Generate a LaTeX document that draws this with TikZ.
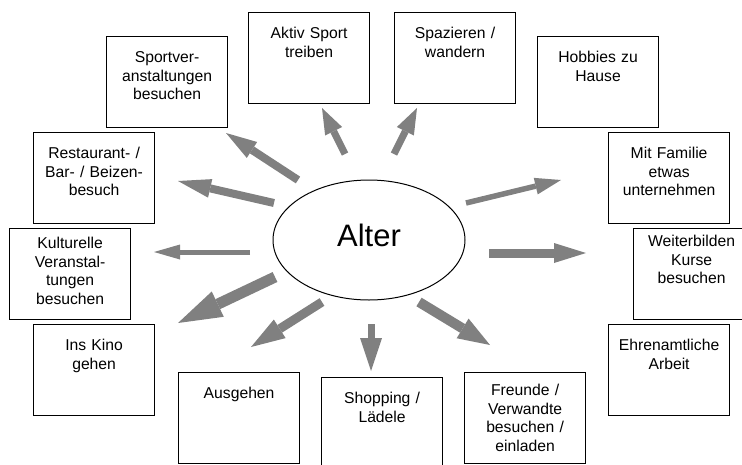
\documentclass[tikz,border=0pt]{standalone}
\usepackage{fontspec}
\setmainfont{Liberation Sans}
\usepackage{tikz}
\usetikzlibrary{arrows.meta, shapes.geometric}
\definecolor{arrowgray}{HTML}{808080}

\begin{document}
\begin{tikzpicture}[
    x = 1pt, y = -1pt,
    box/.style    = {rectangle, draw, line width=1.2pt, anchor=north west,
                     inner xsep=0pt, inner ysep=0pt, minimum width=121pt,
                     text width=115pt, align=center,
                     text height=26pt, text depth=65pt,
                     font=\fontsize{15.7}{18.5}\selectfont},
    garrow/.style n args = {3}{draw=arrowgray, line width=#1,
                     -{Triangle[width=#2, length=#3, line width=0pt]}},
  ]
  \path[use as bounding box, clip] (0,0) rectangle (742,464);

  \node[ellipse, draw, line width=1pt, minimum width=192pt, minimum height=120pt,
        text height=22pt, text depth=10pt, font=\fontsize{31}{36}\selectfont]
        (alter) at (369,240) {Alter};

  \node[box] (sportver)   at (106,36)  {Sportver-\\anstaltungen\\besuchen};
  \node[box] (aktiv)      at (248,12)  {Aktiv Sport\\treiben};
  \node[box] (spazieren)  at (394,12)  {Spazieren /\\wandern};
  \node[box] (hobbies)    at (537,36)  {Hobbies zu\\Hause};
  \node[box] (familie)    at (608,132) {Mit Familie\\etwas\\unternehmen};
  \node[box, minimum width=116pt, text width=110pt,
        text height=18pt, text depth=73pt]
             (weiter)     at (633,228) {Weiterbilden\\Kurse\\besuchen};
  \node[box] (ehrenamt)   at (608,324) {Ehrenamtliche\\Arbeit};
  \node[box, text height=23pt, text depth=68pt]
             (freunde)    at (464,372) {Freunde /\\Verwandte\\besuchen /\\einladen};
  \node[box] (shopping)   at (321,377) {Shopping /\\Lädele};
  \node[box] (ausgehen)   at (178,372) {Ausgehen};
  \node[box] (kino)       at (33,324)  {Ins Kino\\gehen};
  \node[box, text height=20pt, text depth=71pt]
             (kultur)     at (9,228)   {Kulturelle\\Veranstal-\\tungen\\besuchen};
  \node[box] (restaurant) at (33,132)  {Restaurant- /\\Bar- / Beizen-\\besuch};

  % arrow ends between the ellipse and the boxes
  \coordinate (sportver-a)   at (298,180); \coordinate (sportver-b)   at (226,133);
  \coordinate (aktiv-a)      at (345,154); \coordinate (aktiv-b)      at (322,108);
  \coordinate (spazieren-a)  at (394,154); \coordinate (spazieren-b)  at (417,108);
  \coordinate (familie-a)    at (466,203); \coordinate (familie-b)    at (561,180);
  \coordinate (weiter-a)     at (489,253); \coordinate (weiter-b)     at (586,253);
  \coordinate (freunde-a)    at (419,302); \coordinate (freunde-b)    at (490,345);
  \coordinate (shopping-a)   at (371,324); \coordinate (shopping-b)   at (371,371);
  \coordinate (ausgehen-a)   at (322,302); \coordinate (ausgehen-b)   at (251,347);
  \coordinate (kino-a)       at (275,277); \coordinate (kino-b)       at (178,323);
  \coordinate (kultur-a)     at (250,252); \coordinate (kultur-b)     at (154,252);
  \coordinate (restaurant-a) at (274,203); \coordinate (restaurant-b) at (178,181);

  \draw[garrow={8pt}{19pt}{31pt}]  (sportver-a)   -- (sportver-b);
  \draw[garrow={7pt}{19pt}{26pt}]  (aktiv-a)      -- (aktiv-b);
  \draw[garrow={7pt}{19pt}{26pt}]  (spazieren-a)  -- (spazieren-b);
  \draw[garrow={5.5pt}{17pt}{26pt}] (familie-a)   -- (familie-b);
  \draw[garrow={9pt}{20pt}{32pt}]  (weiter-a)     -- (weiter-b);
  \draw[garrow={10pt}{23pt}{32pt}] (freunde-a)    -- (freunde-b);
  \draw[garrow={7pt}{22pt}{33pt}]  (shopping-a)   -- (shopping-b);
  \draw[garrow={9pt}{22pt}{34pt}]  (ausgehen-a)   -- (ausgehen-b);
  \draw[garrow={11pt}{28pt}{44pt}] (kino-a)       -- (kino-b);
  \draw[garrow={5pt}{15pt}{26pt}]  (kultur-a)     -- (kultur-b);
  \draw[garrow={8pt}{19pt}{33pt}]  (restaurant-a) -- (restaurant-b);
\end{tikzpicture}
\end{document}
